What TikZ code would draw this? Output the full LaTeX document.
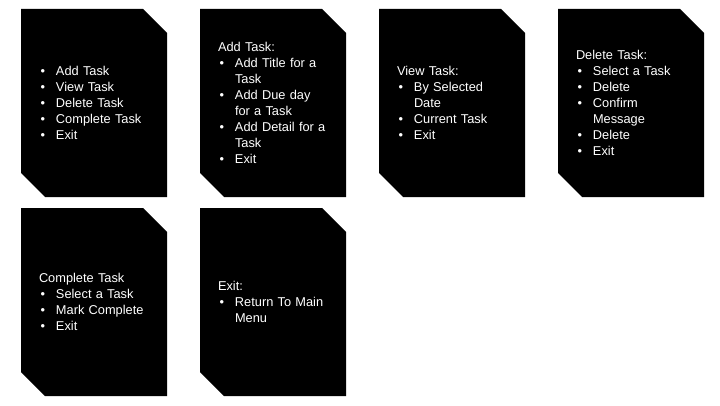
\documentclass[tikz,border=0pt]{standalone}
\usepackage{fontspec}
\setmainfont{Liberation Sans}
\usetikzlibrary{positioning, backgrounds}

% bullet and continuation indents for the menu lines
\newcommand{\itm}{\makebox[17pt][l]{\hspace{1.5pt}\textbullet}}
\newcommand{\cnt}{\hspace*{17pt}}

\begin{document}
\begin{tikzpicture}[
        node distance=11pt and 33pt,
        % the text area of one card
        card/.style={rectangle, text=white, minimum width=146pt, minimum height=188pt,
            text width=110pt, align=left, inner sep=0pt, outer sep=0pt,
            font=\fontsize{12.8}{16}\selectfont},
        % the black card with the top right and bottom left corners cut off
        cut/.style={fill=black}
    ]
    \useasboundingbox (0,0) rectangle (720pt,405pt);

    % --- FIRST ROW ---
    \node (mainmenu) [card] at (94pt,302pt) {\itm Add Task\\ \itm View Task\\ \itm Delete Task\\ \itm Complete Task\\ \itm Exit};

    \node (addtask) [card, right=of mainmenu] {Add Task:\\ \itm Add Title for a\\ \cnt Task\\ \itm Add Due day\\ \cnt for a Task\\ \itm Add Detail for a\\ \cnt Task\\ \itm Exit};

    \node (viewtask) [card, right=of addtask] {View Task:\\ \itm By Selected\\ \cnt Date\\ \itm Current Task\\ \itm Exit};

    \node (deletetask) [card, right=of viewtask] {Delete Task:\\ \itm Select a Task\\ \itm Delete\\ \itm Confirm\\ \cnt Message\\ \itm Delete\\ \itm Exit};

    % --- SECOND ROW ---
    \node (completetask) [card, below=of mainmenu] {Complete Task\\ \itm Select a Task\\ \itm Mark Complete\\ \itm Exit};

    \node (exitmenu) [card, right=of completetask] {Exit:\\ \itm Return To Main\\ \cnt Menu};

    % --- THE BLACK CARDS ---
    \begin{scope}[on background layer]
        \foreach \n in {mainmenu, addtask, viewtask, deletetask, completetask, exitmenu}
            \fill [cut] (\n.north west) -- ([xshift=-24pt]\n.north east) -- ([yshift=-24pt]\n.north east)
                -- (\n.south east) -- ([xshift=24pt]\n.south west) -- ([yshift=24pt]\n.south west) -- cycle;
    \end{scope}

\end{tikzpicture}
\end{document}
